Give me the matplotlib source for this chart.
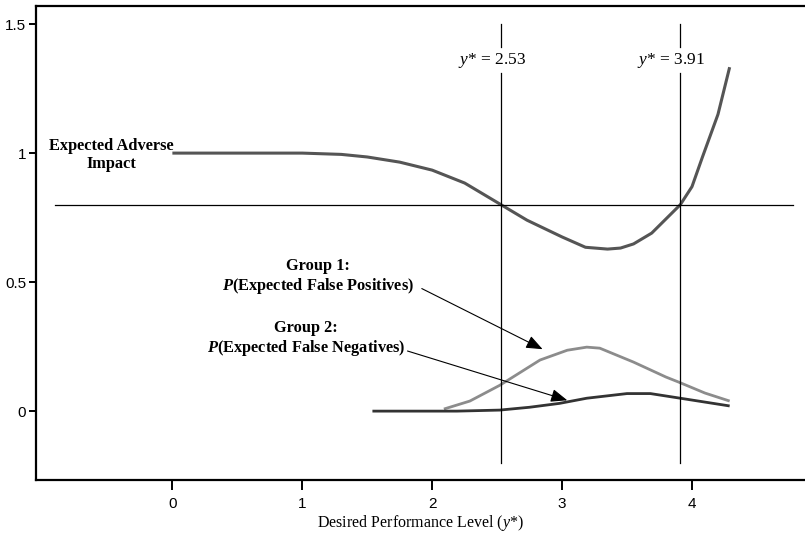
import numpy as np
import matplotlib.pyplot as plt

plt.rcParams['mathtext.fontset'] = 'custom'
plt.rcParams['mathtext.rm'] = 'Liberation Serif'
plt.rcParams['mathtext.it'] = 'Liberation Serif:italic'
plt.rcParams['mathtext.bfit'] = 'Liberation Serif:italic:bold'

# Expected adverse impact curve
ai_x = [0.0, 0.5, 1.0, 1.3, 1.5, 1.75, 2.0, 2.25, 2.53, 2.73, 3.0, 3.18, 3.35, 3.45, 3.55, 3.69, 3.91, 4.0, 4.08, 4.2, 4.29]
ai_y = [1.0, 1.0, 1.0, 0.995, 0.985, 0.965, 0.934, 0.884, 0.80, 0.74, 0.675, 0.635, 0.628, 0.632, 0.648, 0.69, 0.80, 0.87, 0.984, 1.15, 1.333]

# Group 1: P(expected false positives)
g1_x = [2.09, 2.29, 2.52, 2.83, 3.04, 3.19, 3.29, 3.55, 3.80, 3.90, 4.10, 4.29]
g1_y = [0.008, 0.039, 0.10, 0.198, 0.236, 0.248, 0.244, 0.19, 0.132, 0.112, 0.07, 0.039]

# Group 2: P(expected false negatives)
g2_x = [1.54, 2.0, 2.19, 2.52, 2.75, 2.98, 3.19, 3.50, 3.68, 3.91, 4.10, 4.29]
g2_y = [0.0, 0.0, 0.0, 0.004, 0.015, 0.03, 0.05, 0.068, 0.068, 0.05, 0.035, 0.02]

cutoffs = [2.53, 3.91]
ai_threshold = 0.8

fig = plt.figure(figsize=(8.05, 5.34), dpi=100)
ax = fig.add_axes([0.0447, 0.1011, 0.9553, 0.8876])
ax.set_xlim(-1.05, 4.87)
ax.set_ylim(-0.267, 1.57)

ax.plot(ai_x, ai_y, color='#555555', lw=2.2, solid_capstyle='butt')
ax.plot(g1_x, g1_y, color='#8c8c8c', lw=2.0, solid_capstyle='butt')
ax.plot(g2_x, g2_y, color='#333333', lw=2.0, solid_capstyle='butt')

# horizontal reference
ax.plot([-0.9, 4.78], [ai_threshold, ai_threshold], color='black', lw=0.9)

# vertical cutoff lines with a gap for the label
for c in cutoffs:
    ax.plot([c, c], [1.5, 1.41], color='black', lw=0.9)
    ax.plot([c, c], [1.31, -0.2], color='black', lw=0.9)
    ax.text(c - 0.07, 1.36, r'$\it{y}$* = ' + f'{c:.2f}', ha='center', va='center',
            family='Liberation Serif', fontsize=12.5)

bold = dict(family='Liberation Serif', fontweight='bold', fontsize=11.8,
            ha='center', va='center', linespacing=1.15)
ax.text(-0.47, 0.993, 'Expected Adverse\nImpact', **bold)
ax.text(1.12, 0.52, 'Group 1:\n$\\mathbfit{P}$(Expected False Positives)', **bold)
ax.text(1.03, 0.28, 'Group 2:\n$\\mathbfit{P}$(Expected False Negatives)', **bold)

arrow = dict(arrowstyle='-|>,head_length=1.0,head_width=0.4', color='black', lw=0.8,
             shrinkA=0, shrinkB=0)
ax.annotate('', xy=(2.85, 0.24), xytext=(1.92, 0.475), arrowprops=arrow)
ax.annotate('', xy=(3.04, 0.042), xytext=(1.81, 0.233), arrowprops=arrow)

ax.spines['right'].set_visible(False)
for s in ['left', 'bottom', 'top']:
    ax.spines[s].set_linewidth(1.6)

ax.set_xticks([0, 1, 2, 3, 4])
ax.set_xticklabels(['0', '1', '2', '3', '4'])
ax.set_yticks([0, 0.5, 1, 1.5])
ax.set_yticklabels(['0', '0.5', '1', '1.5'])
ax.tick_params(axis='both', direction='out', width=1.4, labelsize=11)
ax.tick_params(axis='y', length=5, pad=2)
ax.tick_params(axis='x', length=7, pad=5)
for lab in ax.get_xticklabels() + ax.get_yticklabels():
    lab.set_family('Liberation Sans')

ax.set_xlabel(r'Desired Performance Level ($\it{y}$*)', family='Liberation Serif',
              fontsize=11.5, labelpad=2)

fig.savefig('out.png', dpi=100)
